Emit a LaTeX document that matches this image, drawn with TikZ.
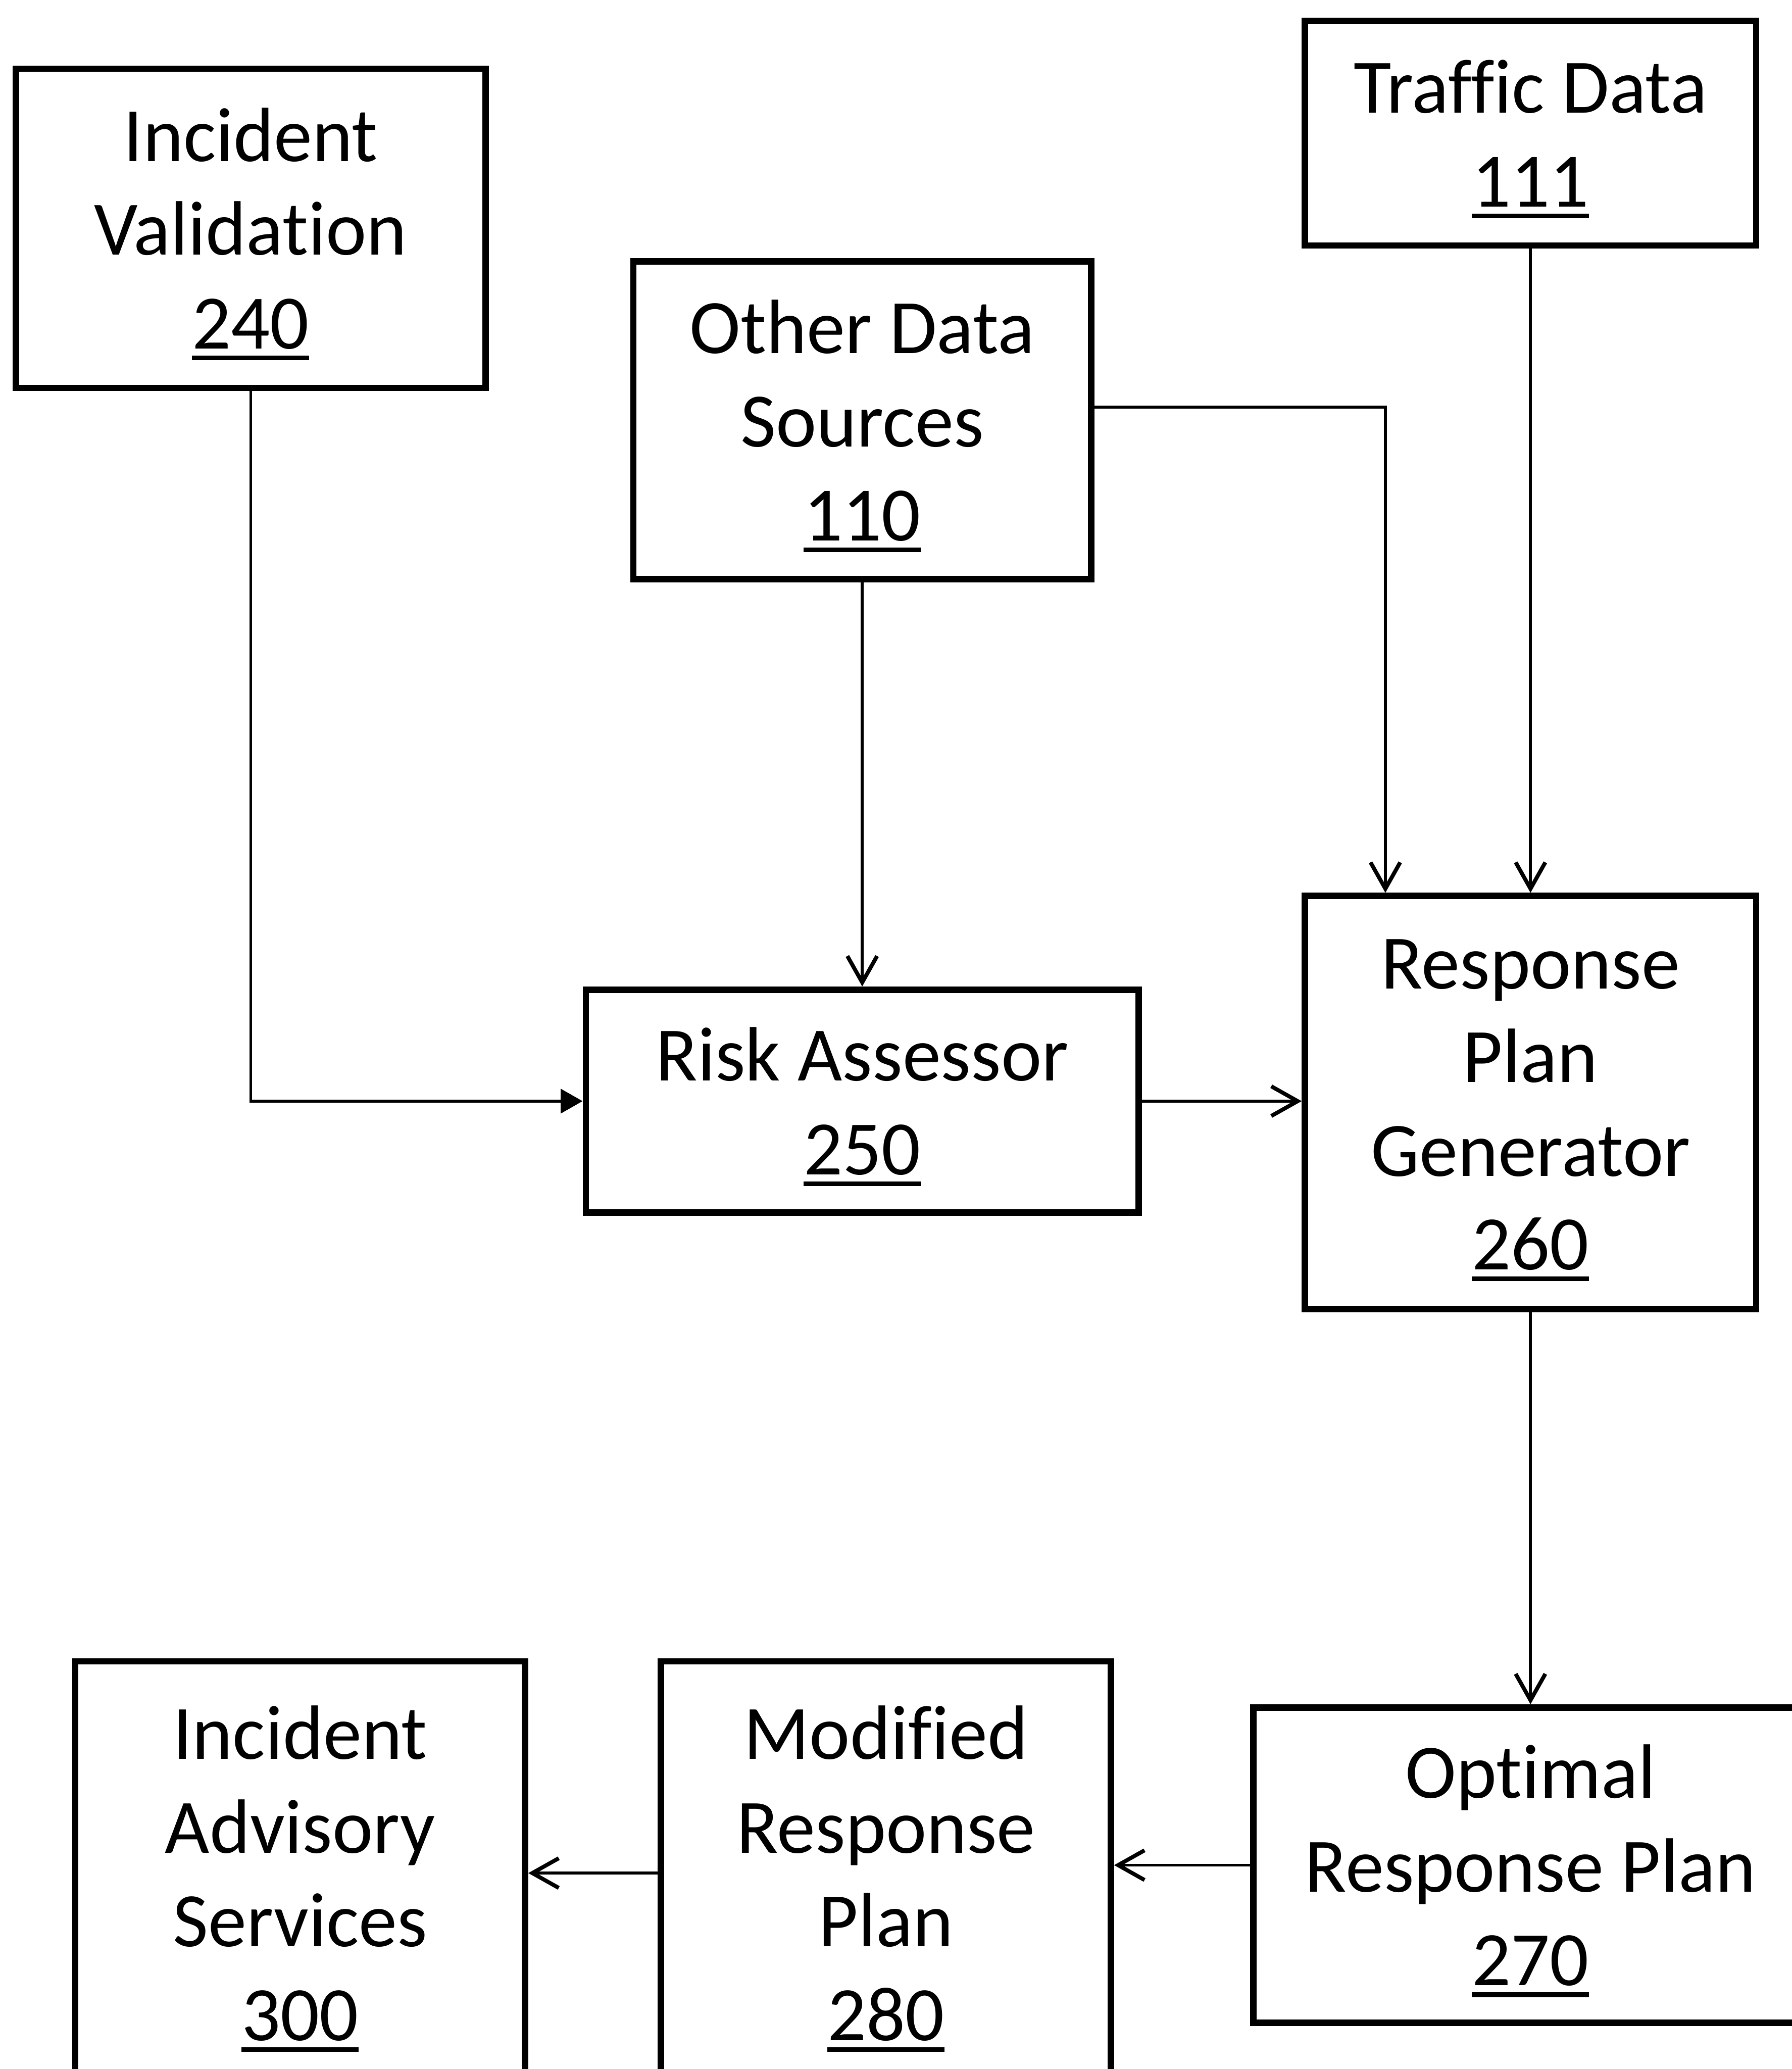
\documentclass[tikz,border=0pt]{standalone}
\usepackage{fontspec}
\setmainfont[Ligatures={NoCommon,NoRequired,NoContextual},RawFeature={-liga;-clig;-dlig}]{Carlito}
\usetikzlibrary{arrows.meta}
\newcommand\ulnum[1]{\setbox0\hbox{#1}\makebox[0pt][l]{\rule[-0.15em]{\wd0}{0.06em}}\box0}
\newcommand\fstrut{\rule{0pt}{29.5pt}}
\tikzset{
  blk/.style={draw, line width=2.9pt, rectangle, inner sep=0pt, align=center,
    font=\fontsize{35pt}{42.6pt}\selectfont},
  conn/.style={line width=1.3pt, -{Straight Barb[length=12pt,width=13.5pt,line width=1.8pt]}},
  connt/.style={line width=1.3pt, -{Triangle[length=10pt,width=11pt]}}
}
\begin{document}
\begin{tikzpicture}[x=0.6pt,y=-0.6pt]
\useasboundingbox (0,0) rectangle (1358,1568);
\node[blk, minimum width=213.6pt, minimum height=145.2pt] (s240) at (190,173) {\fstrut Incident\\Validation\\\ulnum{240}};
\node[blk, minimum width=208.2pt, minimum height=144.6pt] (s110) at (653.5,318.5) {\fstrut Other Data\\Sources\\\ulnum{110}};
\node[blk, minimum width=205.2pt, minimum height=102pt] (s111) at (1160,101) {\fstrut Traffic Data\\\ulnum{111}};
\node[blk, minimum width=251.4pt, minimum height=101.4pt] (s250) at (653.5,834.5) {\fstrut Risk Assessor\\\ulnum{250}};
\node[blk, minimum width=205.2pt, minimum height=187.8pt] (s260) at (1160,835.5) {\fstrut Response\\Plan\\Generator\\\ulnum{260}};
\node[blk, minimum width=252pt, minimum height=143.4pt] (s270) at (1160,1413.5) {\fstrut Optimal\\Response Plan\\\ulnum{270}};
\node[blk, minimum width=204.6pt, minimum height=192.6pt] (s280) at (671.5,1419.5) {\fstrut Modified\\Response\\Plan\\\ulnum{280}};
\node[blk, minimum width=204.6pt, minimum height=192.6pt] (s300) at (227.5,1419.5) {\fstrut Incident\\Advisory\\Services\\\ulnum{300}};
\draw[connt] (s240.south) |- (s250.west);
\draw[conn] (s110.south) -- (s250.north);
\draw[conn] ([yshift=6pt]s110.east) -| ([xshift=-66pt]s260.north);
\draw[conn] (s111.south) -- (s260.north);
\draw[conn] (s250.east) -- (s250.east -| s260.west);
\draw[conn] (s260.south) -- (s270.north);
\draw[conn] (s270.west) -- (s270.west -| s280.east);
\draw[conn] (s280.west) -- (s280.west -| s300.east);
\end{tikzpicture}
\end{document}
